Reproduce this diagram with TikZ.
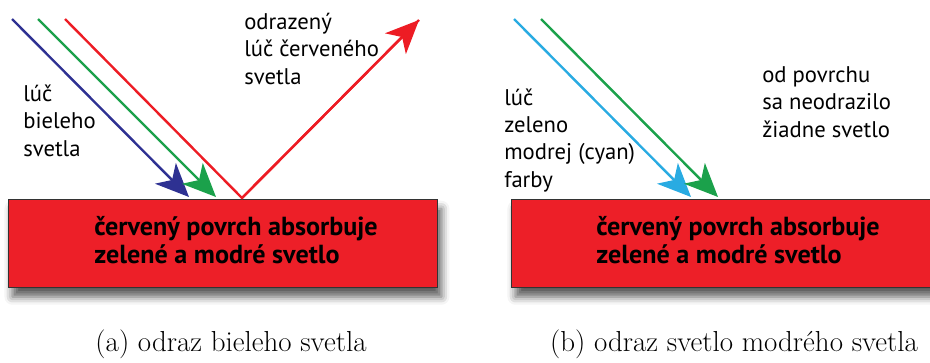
\documentclass[tikz,border=0pt]{standalone}
\usepackage{fontspec}
\newfontfamily\labelfont{PT Sans}
\usetikzlibrary{arrows.meta,shadows.blur}
\definecolor{rayred}{HTML}{ED1C24}
\definecolor{raygreen}{HTML}{1BA14B}
\definecolor{rayblue}{HTML}{2E3192}
\definecolor{raycyan}{HTML}{29ABE2}
\definecolor{surfred}{HTML}{ED1F28}
\tikzset{
  ray/.style={line width=1.8pt, -{Stealth[length=25pt,width=22pt,inset=7pt]}},
  plainray/.style={line width=1.8pt},
  surface/.style={draw=black!80, line width=0.6pt, fill=surfred, inner sep=0pt,
    anchor=north west, minimum height=66pt,
    blur shadow={shadow xshift=3pt, shadow yshift=-7pt, shadow blur radius=6pt, shadow opacity=65}},
  lbl/.style={font=\labelfont\fontsize{17}{20.5}\selectfont, align=left, inner sep=0pt, anchor=base west},
  boldlbl/.style={font=\labelfont\bfseries\fontsize{19.6}{21}\selectfont, align=left, inner sep=0pt, anchor=base west},
  caption/.style={font=\fontsize{21.7}{26}\selectfont, inner sep=0pt, anchor=base}
}
\begin{document}
\begin{tikzpicture}[x=0.75pt,y=-0.75pt]
\useasboundingbox (0,0) rectangle (930,362);
\clip (0,0) rectangle (930,362);
% panel (a)
\node (surfA) [surface, minimum width=321.75pt] at (8,199) {};
\node (textA) [boldlbl] at (94,263) {červený povrch absorbuje\\zelené a modré svetlo};
\coordinate (blueS) at (12,19);
\coordinate (blueE) at (189,197);
\coordinate (greenS) at (38,19);
\coordinate (greenE) at (216,197);
\coordinate (redS) at (65,19);
\coordinate (redM) at (242,198);
\coordinate (redE) at (419,20);
\draw[ray, rayblue] (blueS) -- (blueE);
\draw[ray, raygreen] (greenS) -- (greenE);
\draw[plainray, rayred, line join=miter] (redS) -- (redM) -- (redE);
\draw[ray, rayred] (redM) -- (redE);
\node (lblWhite) [lbl] at (23,156) {lúč\\bieleho\\svetla};
\node (lblRed) [lbl] at (244,84) {odrazený\\lúč červeného\\svetla};
\node (capA) [caption] at (231,351) {(a) odraz bieleho svetla};
% panel (b)
\node (surfB) [surface, minimum width=330pt] at (511,199) {};
\node (textB) [boldlbl] at (596,263) {červený povrch absorbuje\\zelené a modré svetlo};
\coordinate (cyanS) at (514,19);
\coordinate (cyanE) at (691,197);
\coordinate (green2S) at (541,19);
\coordinate (green2E) at (718,197);
\draw[ray, raycyan] (cyanS) -- (cyanE);
\draw[ray, raygreen] (green2S) -- (green2E);
\node (lblCyan) [lbl] at (504,187) {lúč\\zeleno\\modrej (cyan)\\farby};
\node (lblNone) [lbl] at (762,137) {od povrchu\\sa neodrazilo\\žiadne svetlo};
\node (capB) [caption] at (734,351) {(b) odraz svetlo modrého svetla};
\end{tikzpicture}
\end{document}
